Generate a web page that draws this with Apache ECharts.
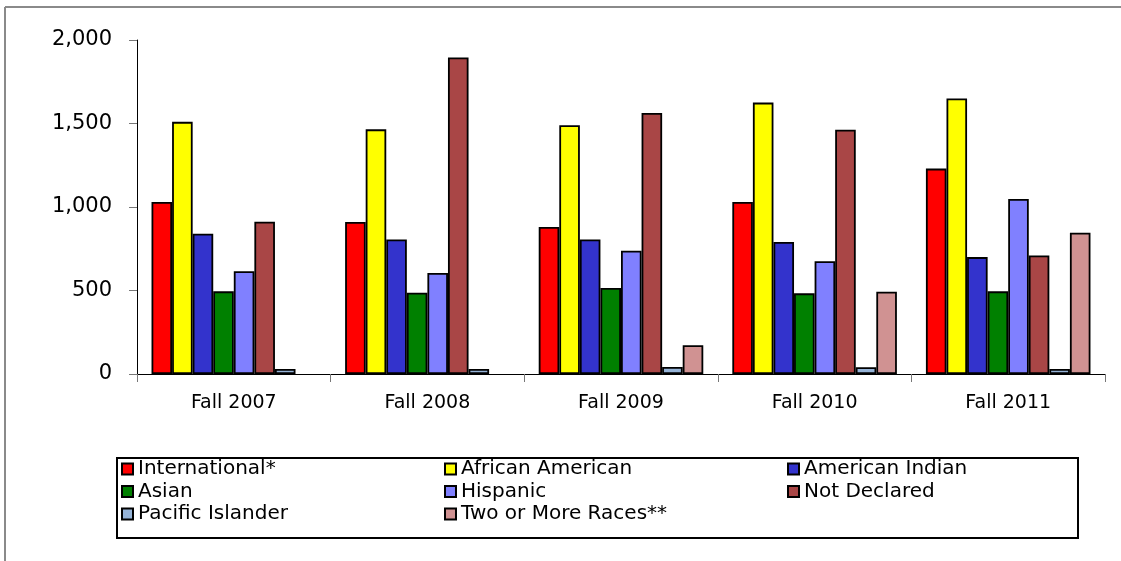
<!DOCTYPE html>
<html>
<head>
<meta charset="utf-8">
<script src="https://cdn.jsdelivr.net/npm/echarts@6/dist/echarts.min.js"></script>
<style>
html,body{margin:0;padding:0;background:#fff;}
#chart{width:1121px;height:561px;}
</style>
</head>
<body>
<div id="chart"></div>
<script>
const categories = ['Fall 2007', 'Fall 2008', 'Fall 2009', 'Fall 2010', 'Fall 2011'];
const yTicks = [0, 500, 1000, 1500, 2000];

const international = [1030, 910, 880, 1030, 1230];
const africanAmerican = [1510, 1465, 1490, 1625, 1650];
const americanIndian = [840, 805, 805, 790, 700];
const asian = [495, 487, 515, 483, 495];
const hispanic = [615, 605, 738, 675, 1048];
const notDeclared = [912, 1895, 1563, 1463, 710];
const pacificIslander = [30, 30, 42, 40, 30];
const twoOrMore = [null, null, 172, 493, 846];

const seriesDefs = [
  ['International*', international, '#FF0000'],
  ['African American', africanAmerican, '#FFFF00'],
  ['American Indian', americanIndian, '#3333CC'],
  ['Asian', asian, '#008000'],
  ['Hispanic', hispanic, '#8080FF'],
  ['Not Declared', notDeclared, '#A94646'],
  ['Pacific Islander', pacificIslander, '#95B3D7'],
  ['Two or More Races**', twoOrMore, '#D09292']
];

const FONT = 'DejaVu Sans';
const chart = echarts.init(document.getElementById('chart'), null, {renderer: 'canvas'});

function legendAt(left, names) {
  return {
    orient: 'vertical',
    left: left,
    top: 458,
    padding: 0,
    itemWidth: 11,
    itemHeight: 11,
    itemGap: 0.5,
    icon: 'rect',
    selectedMode: true,
    data: names,
    textStyle: {fontFamily: FONT, fontSize: 20, color: '#000', lineHeight: 22}
  };
}

chart.setOption({
  animation: false,
  backgroundColor: '#fff',
  graphic: [
    {type: 'line', shape: {x1: 5, y1: 7, x2: 1121, y2: 7}, style: {stroke: '#8a8a8a', lineWidth: 2}},
    {type: 'line', shape: {x1: 5, y1: 7, x2: 5, y2: 561}, style: {stroke: '#8a8a8a', lineWidth: 2}},
    {type: 'rect', shape: {x: 117, y: 458, width: 961, height: 80}, style: {fill: 'none', stroke: '#000', lineWidth: 2}}
  ],
  legend: [
    legendAt(121, ['International*', 'Asian', 'Pacific Islander']),
    legendAt(444, ['African American', 'Hispanic', 'Two or More Races**']),
    legendAt(787, ['American Indian', 'Not Declared'])
  ],
  grid: {left: 137, right: 16, top: 40, bottom: 187, containLabel: false},
  xAxis: {
    type: 'category',
    data: categories,
    boundaryGap: true,
    axisLine: {lineStyle: {color: '#000', width: 1}},
    axisTick: {show: true, length: 8, lineStyle: {color: '#777'}},
    axisLabel: {fontFamily: FONT, fontSize: 19, color: '#000', margin: 20}
  },
  yAxis: {
    type: 'value',
    min: yTicks[0],
    max: yTicks[yTicks.length - 1],
    interval: yTicks[1] - yTicks[0],
    axisLine: {show: true, lineStyle: {color: '#000', width: 1}},
    axisTick: {show: true, length: 8, lineStyle: {color: '#777'}},
    splitLine: {show: false},
    axisLabel: {
      fontFamily: FONT, fontSize: 21, color: '#000', margin: 25, padding: [3, 0, 0, 0],
      formatter: v => v.toLocaleString('en-US')
    }
  },
  series: seriesDefs.map(([name, data, color]) => ({
    name: name,
    type: 'bar',
    data: data,
    barGap: '0%',
    barCategoryGap: '15%',
    itemStyle: {color: color, borderColor: '#000', borderWidth: 1.8}
  }))
});
</script>
</body>
</html>
